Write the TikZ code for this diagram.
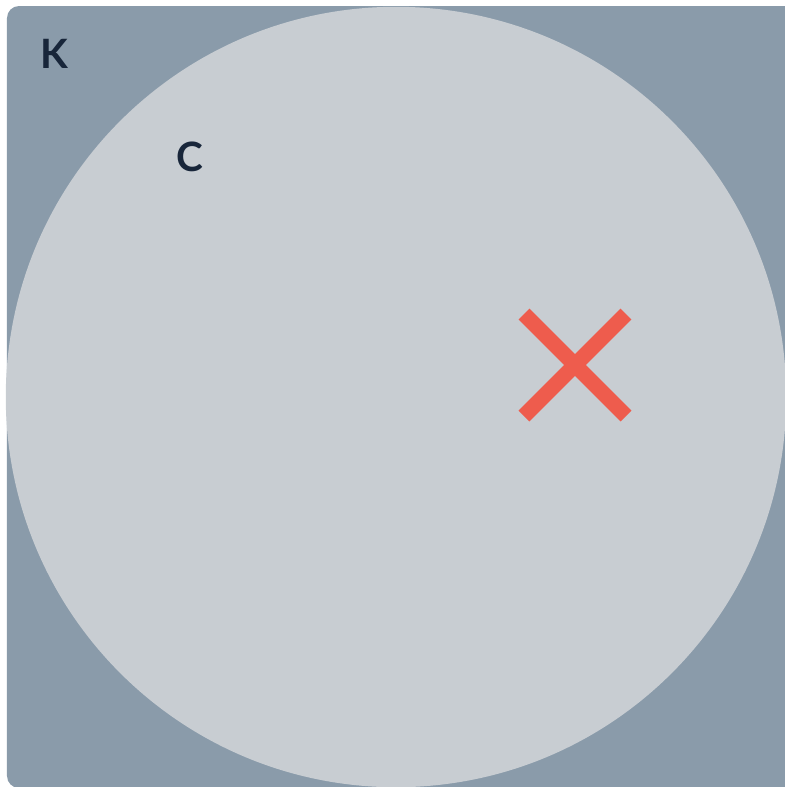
\documentclass[tikz,border=0pt]{standalone}
\usepackage{fontspec}
\setsansfont{Lato}
\usetikzlibrary{calc}
\definecolor{setfill}{HTML}{8A9BAA}
\definecolor{subfill}{HTML}{C8CDD2}
\definecolor{markred}{HTML}{EE5C4D}
\definecolor{labeltext}{HTML}{18263A}
\begin{document}
\begin{tikzpicture}[
    x=0.01cm, y=-0.01cm,
    font=\sffamily\bfseries\fontsize{11.5}{13}\selectfont,
    label/.style={text=labeltext, inner sep=0pt},
    cross/.style={draw=markred, line width=0.155cm, line cap=butt},
]
\useasboundingbox (0,0) rectangle (785,787);

% ---------------- Outer set and inner disc ----------------
\fill[setfill, rounded corners=0.12cm] (7,6) rectangle (800,788);
\fill[subfill] (396,397) circle[radius=3.9cm];

% ---------------- Labels ----------------
\node[label] (k) at (54,54) {K};
\node[label] (c) at (190,157) {C};

% ---------------- Point outside C ----------------
\coordinate (pt) at (575,365);
\draw[cross] ($(pt)+(-51,-51)$) -- ($(pt)+(51,51)$);
\draw[cross] ($(pt)+(51,-51)$) -- ($(pt)+(-51,51)$);

\end{tikzpicture}
\end{document}
